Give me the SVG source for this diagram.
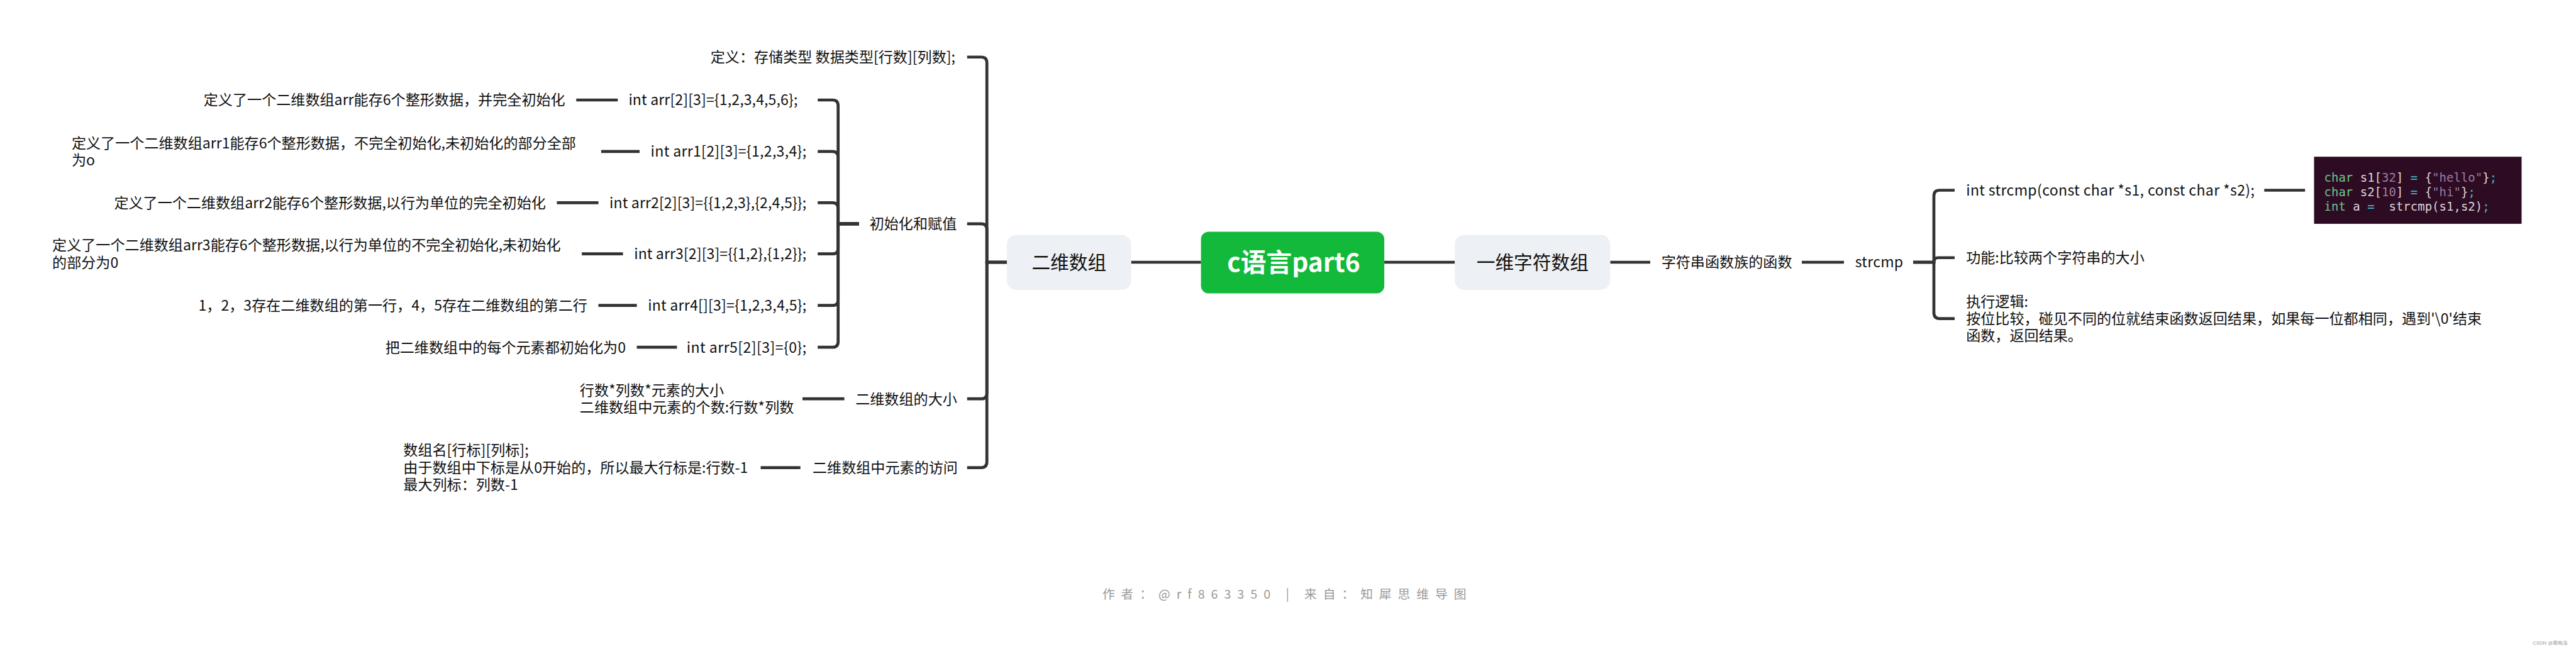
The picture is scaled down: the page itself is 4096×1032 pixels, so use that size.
<svg xmlns="http://www.w3.org/2000/svg" width="4096" height="1032" viewBox="0 0 4096 1032">
<style>
.t{font-family:"Noto Sans CJK SC","Noto Sans",sans-serif;font-size:23.1px;fill:#111}
.m{font-size:29.7px}
.rt{font-family:"Noto Sans CJK SC","Noto Sans",sans-serif;font-size:40.7px;font-weight:bold;fill:#fff}
.ln{fill:none;stroke:#333;stroke-width:4.7}
.nd{fill:#edf0f4}
.code{font-family:"DejaVu Sans Mono","Liberation Mono",monospace;font-size:19px;fill:#dcd5d8}
.g{fill:#6cc48e}.p{fill:#9c7ba3}.c{fill:#3bb8c0}
.wm{font-family:"Noto Sans CJK SC","Noto Sans",sans-serif;font-size:19.8px;fill:#9a9a9a}
</style>
<rect width="4096" height="1032" fill="#fff"/>
<g id="connectors">
<path class="ln" d="M1798.5 417H1909.6M2201.1 417H2313.3M2560.3 417H2624M2865 417H2932"/>
<path class="ln" d="M1601 417H1569.2V99.75Q1569.2 90.75 1560.2 90.75H1537.8"/>
<path class="ln" d="M1601 417H1569.2V364.9Q1569.2 355.9 1560.2 355.9H1537.8"/>
<path class="ln" d="M1601 417H1569.2V625.2Q1569.2 634.2 1560.2 634.2H1537.8"/>
<path class="ln" d="M1601 417H1569.2V734.6Q1569.2 743.6 1560.2 743.6H1537.8"/>
<path class="ln" d="M1365.7 355.9H1332.7V168Q1332.7 159 1323.7 159H1300.2"/>
<path class="ln" d="M1365.7 355.9H1332.7V249.9Q1332.7 240.9 1323.7 240.9H1300.2"/>
<path class="ln" d="M1365.7 355.9H1332.7V331.3Q1332.7 322.3 1323.7 322.3H1300.2"/>
<path class="ln" d="M1365.7 355.9H1332.7V394.7Q1332.7 403.7 1323.7 403.7H1300.2"/>
<path class="ln" d="M1365.7 355.9H1332.7V476.7Q1332.7 485.7 1323.7 485.7H1300.2"/>
<path class="ln" d="M1365.7 355.9H1332.7V543.2Q1332.7 552.2 1323.7 552.2H1300.2"/>
<path class="ln" d="M916.3 159H982.3M955.9 240.9H1017M885.5 322.3H951.5M925.1 403.7H990.6M951.5 485.7H1012.6M1012.6 552.2H1076.4"/>
<path class="ln" d="M1276 634.2H1342.6M1209.5 743.6H1272.7"/>
<path class="ln" d="M3042 417H3075V311.5Q3075 302.5 3084 302.5H3108"/>
<path class="ln" d="M3042 417H3075V416.75Q3075 409.75 3082 409.75H3108"/>
<path class="ln" d="M3042 417H3075V497.6Q3075 506.6 3084 506.6H3108"/>
<path class="ln" d="M3600.3 302.5H3665.2"/>
</g>
<g id="root">
<rect x="1909.6" y="368.5" width="291.5" height="97.9" rx="12" fill="#13b93a"/>
<text class="rt" x="2057" y="431.6" text-anchor="middle">c语言part6</text>
</g>
<g id="n-2d">
<rect class="nd" x="1601" y="373.5" width="197.5" height="87.5" rx="15"/>
<text class="t m" x="1699.8" y="427.7" text-anchor="middle">二维数组</text>
</g>
<g id="n-1d">
<rect class="nd" x="2313.3" y="373.5" width="247" height="87.5" rx="15"/>
<text class="t m" x="2436.8" y="427.7" text-anchor="middle">一维字符数组</text>
</g>
<g id="n-def"><text class="t" x="1519" y="99" text-anchor="end">定义：存储类型 数据类型[行数][列数];</text></g>
<g id="n-init"><text class="t" x="1382.7" y="364.2">初始化和赋值</text></g>
<g id="n-r1">
<text class="t" x="999.4" y="167.3" textLength="268.9">int arr[2][3]={1,2,3,4,5,6};</text>
<text class="t" x="898.7" y="167.3" text-anchor="end">定义了一个二维数组arr能存6个整形数据，并完全初始化</text>
</g>
<g id="n-r2">
<text class="t" x="1034.6" y="249.2" textLength="247.5">int arr1[2][3]={1,2,3,4};</text>
<text class="t" x="113.9" y="235.5">定义了一个二维数组arr1能存6个整形数据，不完全初始化,未初始化的部分全部</text>
<text class="t" x="113.9" y="263">为o</text>
</g>
<g id="n-r3">
<text class="t" x="969.1" y="330.6" textLength="313">int arr2[2][3]={{1,2,3},{2,4,5}};</text>
<text class="t" x="867.9" y="330.6" text-anchor="end">定义了一个二维数组arr2能存6个整形数据,以行为单位的完全初始化</text>
</g>
<g id="n-r4">
<text class="t" x="1008.2" y="412" textLength="273.9">int arr3[2][3]={{1,2},{1,2}};</text>
<text class="t" x="83.1" y="398.3">定义了一个二维数组arr3能存6个整形数据,以行为单位的不完全初始化,未初始化</text>
<text class="t" x="83.1" y="425.8">的部分为0</text>
</g>
<g id="n-r5">
<text class="t" x="1030.2" y="494" textLength="251.9">int arr4[][3]={1,2,3,4,5};</text>
<text class="t" x="933.9" y="494" text-anchor="end">1，2，3存在二维数组的第一行，4，5存在二维数组的第二行</text>
</g>
<g id="n-r6">
<text class="t" x="1091.8" y="560.5" textLength="190.3">int arr5[2][3]={0};</text>
<text class="t" x="995" y="560.5" text-anchor="end">把二维数组中的每个元素都初始化为0</text>
</g>
<g id="n-size">
<text class="t" x="1360.2" y="642.5">二维数组的大小</text>
<text class="t" x="921.8" y="628.7">行数*列数*元素的大小</text>
<text class="t" x="921.8" y="656.2">二维数组中元素的个数:行数*列数</text>
</g>
<g id="n-access">
<text class="t" x="1292" y="751.9">二维数组中元素的访问</text>
<text class="t" x="641.3" y="724.4">数组名[行标][列标];</text>
<text class="t" x="641.3" y="751.9">由于数组中下标是从0开始的，所以最大行标是:行数-1</text>
<text class="t" x="641.3" y="779.4">最大列标：列数-1</text>
</g>
<g id="n-strfn"><text class="t" x="2641.7" y="425.3">字符串函数族的函数</text></g>
<g id="n-strcmp"><text class="t" x="2949.7" y="425.3" textLength="76.4">strcmp</text></g>
<g id="n-proto"><text class="t" x="3126.2" y="310.8" textLength="458.7">int strcmp(const char *s1, const char *s2);</text></g>
<g id="n-code">
<rect x="3679.5" y="249.2" width="330" height="106.7" fill="#2d0b22"/>
<text class="code" x="3695.5" y="288.7" xml:space="preserve"><tspan class="g">char</tspan> s1[<tspan class="p">32</tspan>] <tspan class="c">=</tspan> {<tspan class="p">"hello"</tspan>}<tspan class="c">;</tspan></text>
<text class="code" x="3695.5" y="311.8" xml:space="preserve"><tspan class="g">char</tspan> s2[<tspan class="p">10</tspan>] <tspan class="c">=</tspan> {<tspan class="p">"hi"</tspan>}<tspan class="c">;</tspan></text>
<text class="code" x="3695.5" y="335.4" xml:space="preserve"><tspan class="g">int</tspan> a <tspan class="c">=</tspan>  strcmp(s1,s2)<tspan class="c">;</tspan></text>
</g>
<g id="n-func"><text class="t" x="3126.2" y="418">功能:比较两个字符串的大小</text></g>
<g id="n-logic">
<text class="t" x="3126.2" y="487.9">执行逻辑:</text>
<text class="t" x="3126.2" y="514.9">按位比较，碰见不同的位就结束函数返回结果，如果每一位都相同，遇到'\0'结束</text>
<text class="t" x="3126.2" y="541.9">函数，返回结果。</text>
</g>
<text class="wm" x="2042.2" y="952" text-anchor="middle" textLength="578.6">作者：@rf863350 | 来自：知犀思维导图</text>
<text x="4083" y="1025" text-anchor="end" font-family="Liberation Sans, sans-serif" font-size="7.7" fill="#999">CSDN @慕晚洛</text>
</svg>
